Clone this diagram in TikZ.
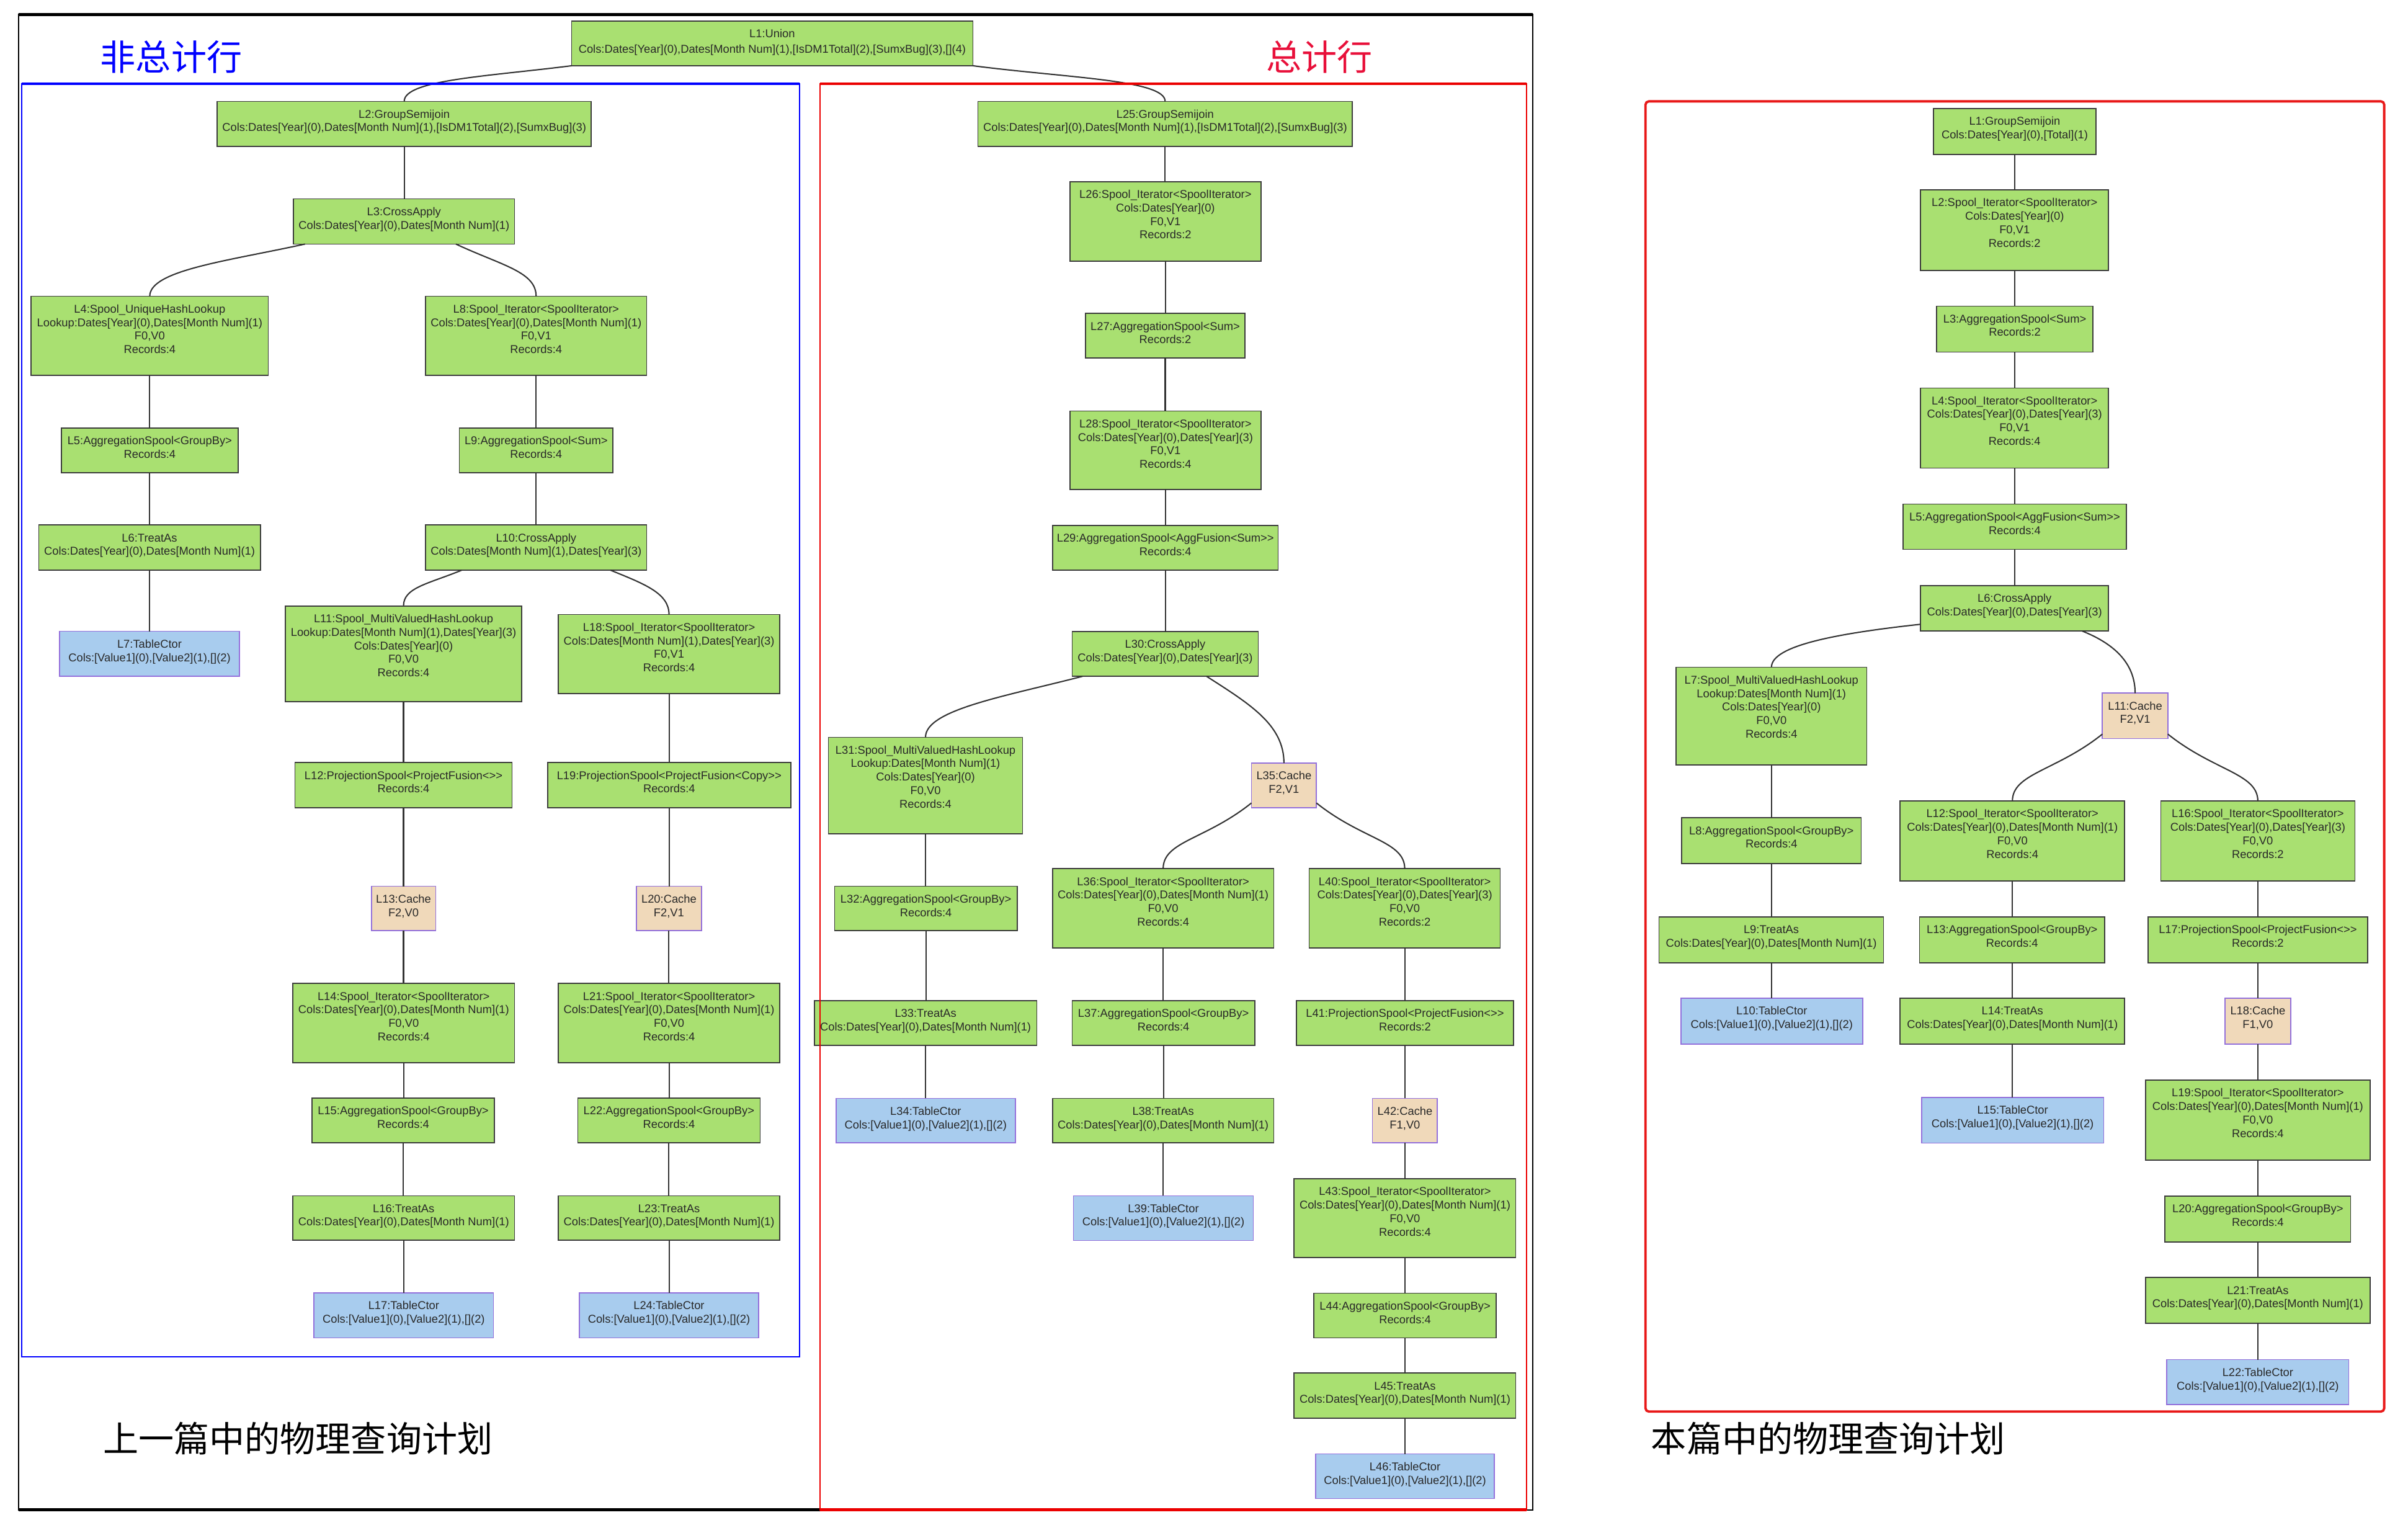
\documentclass[tikz,border=0pt]{standalone}
\usepackage{fontspec}
\setmainfont{Liberation Sans}[Ligatures=TeXOff]
\newfontfamily\cjk{Noto Sans CJK SC}
\usetikzlibrary{calc}
\definecolor{gfill}{RGB}{169,224,113}
\definecolor{gdraw}{RGB}{60,60,60}
\definecolor{bfill}{RGB}{168,204,238}
\definecolor{pdraw}{RGB}{147,112,219}
\definecolor{cfill}{RGB}{240,217,186}
\definecolor{txt}{RGB}{40,40,40}
\definecolor{edgec}{RGB}{51,51,51}
\definecolor{tred}{RGB}{232,16,58}
\definecolor{fred}{RGB}{232,24,24}
\definecolor{mred}{RGB}{235,0,0}
\tikzset{
 opbase/.style={inner sep=0pt, outer sep=0pt, line width=0.5pt, text=txt, font=\fontsize{5.27}{6.25}\selectfont},
 gbox/.style={opbase, draw=gdraw, fill=gfill},
 tbox/.style={opbase, draw=pdraw, fill=bfill},
 cbox/.style={opbase, draw=pdraw, fill=cfill},
 conn/.style={draw=edgec, line width=0.6pt},
 title/.style={font=\cjk\fontsize{16.4}{18}\selectfont, inner sep=0pt},
}
\newcommand\opn[7]{%
 \pgfmathsetlengthmacro\opw{(#5-#3)*0.025cm}%
 \pgfmathsetlengthmacro\oph{(#6-#4)*0.025cm}%
 \node[#2] (#1) at ({(#3+#5)/2},{(#4+#6)/2}) {\parbox[c][\oph][t]{\opw}{\centering\rule{0pt}{7.7pt}#7\par}};%
}
\begin{document}
\begin{tikzpicture}[x=0.025cm, y=-0.025cm]
\useasboundingbox (0,0) rectangle (1568,986);
% ---------- left (non-total) ----------
\opn{L1}{gbox}{372.2}{13.7}{633.5}{42.8}{L1:Union\\[1pt]Cols:Dates[Year](0),Dates[Month Num](1),[IsDM1Total](2),[SumxBug](3),[](4)}
\opn{L2}{gbox}{141.4}{66.0}{385.0}{95.3}{L2:GroupSemijoin\\Cols:Dates[Year](0),Dates[Month Num](1),[IsDM1Total](2),[SumxBug](3)}
\opn{L3}{gbox}{191.1}{129.5}{335.0}{158.9}{L3:CrossApply\\Cols:Dates[Year](0),Dates[Month Num](1)}
\opn{L4}{gbox}{20.3}{192.9}{174.7}{244.4}{L4:Spool\_UniqueHashLookup\\Lookup:Dates[Year](0),Dates[Month Num](1)\\F0,V0\\Records:4}
\opn{L8}{gbox}{277.1}{192.9}{421.1}{244.4}{L8:Spool\_Iterator<SpoolIterator>\\Cols:Dates[Year](0),Dates[Month Num](1)\\F0,V1\\Records:4}
\opn{L5}{gbox}{39.9}{278.6}{155.1}{307.8}{L5:AggregationSpool<GroupBy>\\Records:4}
\opn{L9}{gbox}{299.1}{278.6}{399.1}{307.8}{L9:AggregationSpool<Sum>\\Records:4}
\opn{L6}{gbox}{25.2}{341.8}{169.5}{371.2}{L6:TreatAs\\Cols:Dates[Year](0),Dates[Month Num](1)}
\opn{L10}{gbox}{277.1}{341.8}{421.1}{371.2}{L10:CrossApply\\Cols:Dates[Month Num](1),Dates[Year](3)}
\opn{L7}{tbox}{38.9}{411.0}{155.8}{440.4}{L7:TableCtor\\Cols:[Value1](0),[Value2](1),[](2)}
\opn{L11}{gbox}{185.9}{394.5}{339.6}{456.9}{L11:Spool\_MultiValuedHashLookup\\Lookup:Dates[Month Num](1),Dates[Year](3)\\Cols:Dates[Year](0)\\F0,V0\\Records:4}
\opn{L18}{gbox}{363.5}{400.1}{507.8}{451.5}{L18:Spool\_Iterator<SpoolIterator>\\Cols:Dates[Month Num](1),Dates[Year](3)\\F0,V1\\Records:4}
\opn{L12}{gbox}{192.1}{496.5}{333.4}{525.8}{L12:ProjectionSpool<ProjectFusion<>>\\Records:4}
\opn{L19}{gbox}{356.6}{496.5}{514.9}{525.8}{L19:ProjectionSpool<ProjectFusion<Copy>>\\Records:4}
\opn{L13}{cbox}{241.8}{577.0}{283.7}{606.0}{L13:Cache\\F2,V0}
\opn{L20}{cbox}{414.5}{577.0}{456.7}{606.0}{L20:Cache\\F2,V1}
\opn{L14}{gbox}{190.7}{640.3}{335.0}{691.8}{L14:Spool\_Iterator<SpoolIterator>\\Cols:Dates[Year](0),Dates[Month Num](1)\\F0,V0\\Records:4}
\opn{L21}{gbox}{363.5}{640.3}{507.8}{691.8}{L21:Spool\_Iterator<SpoolIterator>\\Cols:Dates[Year](0),Dates[Month Num](1)\\F0,V0\\Records:4}
\opn{L15}{gbox}{203.2}{715.0}{321.9}{744.0}{L15:AggregationSpool<GroupBy>\\Records:4}
\opn{L22}{gbox}{376.2}{715.0}{495.0}{744.0}{L22:AggregationSpool<GroupBy>\\Records:4}
\opn{L16}{gbox}{190.7}{778.5}{335.0}{807.5}{L16:TreatAs\\Cols:Dates[Year](0),Dates[Month Num](1)}
\opn{L23}{gbox}{363.5}{778.5}{507.8}{807.5}{L23:TreatAs\\Cols:Dates[Year](0),Dates[Month Num](1)}
\opn{L17}{tbox}{204.5}{841.8}{321.3}{871.0}{L17:TableCtor\\Cols:[Value1](0),[Value2](1),[](2)}
\opn{L24}{tbox}{377.2}{841.8}{494.0}{871.0}{L24:TableCtor\\Cols:[Value1](0),[Value2](1),[](2)}
% ---------- middle (total) ----------
\opn{L25}{gbox}{636.8}{66.0}{880.6}{95.3}{L25:GroupSemijoin\\Cols:Dates[Year](0),Dates[Month Num](1),[IsDM1Total](2),[SumxBug](3)}
\opn{L26}{gbox}{696.7}{118.3}{821.1}{169.9}{L26:Spool\_Iterator<SpoolIterator>\\Cols:Dates[Year](0)\\F0,V1\\Records:2}
\opn{L27}{gbox}{706.8}{204.1}{810.7}{233.2}{L27:AggregationSpool<Sum>\\Records:2}
\opn{L28}{gbox}{696.7}{267.6}{821.1}{318.8}{L28:Spool\_Iterator<SpoolIterator>\\Cols:Dates[Year](0),Dates[Year](3)\\F0,V1\\Records:4}
\opn{L29}{gbox}{685.4}{342.1}{832.3}{371.3}{L29:AggregationSpool<AggFusion<Sum>>\\Records:4}
\opn{L30}{gbox}{698.2}{411.1}{819.3}{440.3}{L30:CrossApply\\Cols:Dates[Year](0),Dates[Year](3)}
\opn{L31}{gbox}{539.4}{480.0}{665.9}{542.8}{L31:Spool\_MultiValuedHashLookup\\Lookup:Dates[Month Num](1)\\Cols:Dates[Year](0)\\F0,V0\\Records:4}
\opn{L35}{cbox}{814.9}{496.8}{857.2}{526.0}{L35:Cache\\F2,V1}
\opn{L32}{gbox}{543.5}{577.0}{662.3}{605.9}{L32:AggregationSpool<GroupBy>\\Records:4}
\opn{L36}{gbox}{685.4}{565.6}{829.4}{617.2}{L36:Spool\_Iterator<SpoolIterator>\\Cols:Dates[Year](0),Dates[Month Num](1)\\F0,V0\\Records:4}
\opn{L40}{gbox}{852.5}{565.6}{976.9}{617.2}{L40:Spool\_Iterator<SpoolIterator>\\Cols:Dates[Year](0),Dates[Year](3)\\F0,V0\\Records:2}
\opn{L33}{gbox}{530.3}{651.4}{675.1}{680.7}{L33:TreatAs\\Cols:Dates[Year](0),Dates[Month Num](1)}
\opn{L37}{gbox}{698.2}{651.4}{817.0}{680.7}{L37:AggregationSpool<GroupBy>\\Records:4}
\opn{L41}{gbox}{844.2}{651.4}{985.5}{680.7}{L41:ProjectionSpool<ProjectFusion<>>\\Records:2}
\opn{L34}{tbox}{544.4}{715.1}{661.1}{744.1}{L34:TableCtor\\Cols:[Value1](0),[Value2](1),[](2)}
\opn{L38}{gbox}{685.4}{715.1}{829.4}{744.1}{L38:TreatAs\\Cols:Dates[Year](0),Dates[Month Num](1)}
\opn{L42}{cbox}{893.7}{715.1}{936.0}{744.1}{L42:Cache\\F1,V0}
\opn{L39}{tbox}{699.0}{778.5}{816.1}{807.6}{L39:TableCtor\\Cols:[Value1](0),[Value2](1),[](2)}
\opn{L43}{gbox}{842.7}{767.4}{987.0}{818.7}{L43:Spool\_Iterator<SpoolIterator>\\Cols:Dates[Year](0),Dates[Month Num](1)\\F0,V0\\Records:4}
\opn{L44}{gbox}{855.5}{842.0}{974.3}{871.0}{L44:AggregationSpool<GroupBy>\\Records:4}
\opn{L45}{gbox}{842.7}{894.0}{987.0}{923.3}{L45:TreatAs\\Cols:Dates[Year](0),Dates[Month Num](1)}
\opn{L46}{tbox}{856.7}{946.6}{973.1}{975.7}{L46:TableCtor\\Cols:[Value1](0),[Value2](1),[](2)}
% ---------- right (this article) ----------
\opn{R1}{gbox}{1258.9}{70.6}{1364.9}{100.6}{L1:GroupSemijoin\\Cols:Dates[Year](0),[Total](1)}
\opn{R2}{gbox}{1250.6}{123.6}{1373.0}{176.1}{L2:Spool\_Iterator<SpoolIterator>\\Cols:Dates[Year](0)\\F0,V1\\Records:2}
\opn{R3}{gbox}{1261.1}{199.3}{1362.8}{229.2}{L3:AggregationSpool<Sum>\\Records:2}
\opn{R4}{gbox}{1250.6}{252.6}{1373.0}{304.8}{L4:Spool\_Iterator<SpoolIterator>\\Cols:Dates[Year](0),Dates[Year](3)\\F0,V1\\Records:4}
\opn{R5}{gbox}{1239.1}{328.2}{1384.7}{357.7}{L5:AggregationSpool<AggFusion<Sum>>\\Records:4}
\opn{R6}{gbox}{1250.6}{381.2}{1373.0}{410.9}{L6:CrossApply\\Cols:Dates[Year](0),Dates[Year](3)}
\opn{R7}{gbox}{1091.4}{434.4}{1215.6}{497.9}{L7:Spool\_MultiValuedHashLookup\\Lookup:Dates[Month Num](1)\\Cols:Dates[Year](0)\\F0,V0\\Records:4}
\opn{R11}{cbox}{1369.0}{451.3}{1411.6}{480.9}{L11:Cache\\F2,V1}
\opn{R8}{gbox}{1095.1}{532.5}{1211.9}{562.2}{L8:AggregationSpool<GroupBy>\\Records:4}
\opn{R12}{gbox}{1237.3}{521.5}{1383.5}{573.6}{L12:Spool\_Iterator<SpoolIterator>\\Cols:Dates[Year](0),Dates[Month Num](1)\\F0,V0\\Records:4}
\opn{R16}{gbox}{1407.0}{521.5}{1533.4}{573.6}{L16:Spool\_Iterator<SpoolIterator>\\Cols:Dates[Year](0),Dates[Year](3)\\F0,V0\\Records:2}
\opn{R9}{gbox}{1080.3}{596.9}{1226.5}{626.8}{L9:TreatAs\\Cols:Dates[Year](0),Dates[Month Num](1)}
\opn{R13}{gbox}{1249.9}{596.9}{1370.5}{626.8}{L13:AggregationSpool<GroupBy>\\Records:4}
\opn{R17}{gbox}{1398.6}{596.9}{1541.8}{626.8}{L17:ProjectionSpool<ProjectFusion<>>\\Records:2}
\opn{R10}{tbox}{1094.5}{649.9}{1212.9}{679.8}{L10:TableCtor\\Cols:[Value1](0),[Value2](1),[](2)}
\opn{R14}{gbox}{1237.3}{649.9}{1383.5}{679.8}{L14:TreatAs\\Cols:Dates[Year](0),Dates[Month Num](1)}
\opn{R18}{cbox}{1448.7}{649.9}{1491.7}{679.8}{L18:Cache\\F1,V0}
\opn{R15}{tbox}{1251.2}{714.4}{1369.9}{744.2}{L15:TableCtor\\Cols:[Value1](0),[Value2](1),[](2)}
\opn{R19}{gbox}{1397.1}{703.2}{1543.3}{755.4}{L19:Spool\_Iterator<SpoolIterator>\\Cols:Dates[Year](0),Dates[Month Num](1)\\F0,V0\\Records:4}
\opn{R20}{gbox}{1409.8}{778.8}{1530.6}{808.7}{L20:AggregationSpool<GroupBy>\\Records:4}
\opn{R21}{gbox}{1397.1}{831.8}{1543.3}{861.5}{L21:TreatAs\\Cols:Dates[Year](0),Dates[Month Num](1)}
\opn{R22}{tbox}{1411.0}{885.2}{1529.4}{914.6}{L22:TableCtor\\Cols:[Value1](0),[Value2](1),[](2)}
% ---------- connectors ----------
\draw[conn] (L1.south west) .. controls +(-55,7) and +(0,-14) .. (L2.north);
\draw[conn] (L1.south east) .. controls +(62,8) and +(0,-14) .. (L25.north);
\draw[conn] ($(L3.south west)!0.052!(L3.south east)$) .. controls +(-50,11) and +(0,-17) .. (L4.north);
\draw[conn] ($(L3.south west)!0.735!(L3.south east)$) .. controls +(30,14) and +(0,-16) .. (L8.north);
\draw[conn] ($(L10.south west)!0.164!(L10.south east)$) .. controls +(-22,9) and +(0,-12) .. (L11.north);
\draw[conn] ($(L10.south west)!0.836!(L10.south east)$) .. controls +(22,9) and +(0,-14) .. (L18.north);
\draw[conn] ($(L30.south west)!0.056!(L30.south east)$) .. controls +(-50,13) and +(0,-18) .. (L31.north);
\draw[conn] ($(L30.south west)!0.722!(L30.south east)$) .. controls +(28,18) and +(0,-25) .. (L35.north);
\draw[conn] ($(L35.north west)!0.89!(L35.south west)$) .. controls +(-30,24) and +(0,-18) .. (L36.north);
\draw[conn] ($(L35.north east)!0.89!(L35.south east)$) .. controls +(30,24) and +(0,-18) .. (L40.north);
\draw[conn] ($(R6.north west)!0.85!(R6.south west)$) .. controls +(-55,6) and +(0,-14) .. (R7.north);
\draw[conn] ($(R6.south west)!0.861!(R6.south east)$) .. controls +(20,8) and +(0,-20) .. (R11.north);
\draw[conn] ($(R11.north west)!0.9!(R11.south west)$) .. controls +(-30,24) and +(0,-18) .. (R12.north);
\draw[conn] ($(R11.north east)!0.9!(R11.south east)$) .. controls +(30,24) and +(0,-18) .. (R16.north);
\foreach \a/\b in {L2/L3,L4/L5,L5/L6,L6/L7,L8/L9,L9/L10,L11/L12,L12/L13,L13/L14,L14/L15,L15/L16,L16/L17,L18/L19,L19/L20,L20/L21,L21/L22,L22/L23,L23/L24,
 L25/L26,L26/L27,L27/L28,L28/L29,L29/L30,L31/L32,L32/L33,L33/L34,L36/L37,L37/L38,L38/L39,L40/L41,L41/L42,L42/L43,L43/L44,L44/L45,L45/L46,
 R1/R2,R2/R3,R3/R4,R4/R5,R5/R6,R7/R8,R8/R9,R9/R10,R12/R13,R13/R14,R14/R15,R16/R17,R17/R18,R18/R19,R19/R20,R20/R21,R21/R22}
 {\draw[conn] (\a.south) -- (\a.south |- \b.north);}
% ---------- frames ----------
\draw[black, line width=0.6pt] (12,9.5) rectangle (998,983);
\draw[black, line width=1.3pt] (12,9.5) -- (998,9.5);
\draw[black, line width=1.3pt] (12,983) -- (534,983);
\draw[blue, line width=0.6pt] (14.2,54.6) rectangle (520.5,883.3);
\draw[blue, line width=1.1pt] (14.2,54.6) -- (520.5,54.6);
\draw[mred, line width=0.6pt] (534,54.6) rectangle (994,983);
\draw[mred, line width=1.1pt] (534,54.6) -- (994,54.6);
\draw[mred, line width=1.3pt] (534,983) -- (994,983);
\draw[fred, line width=1.1pt, rounded corners=1.5pt] (1071.5,66) rectangle (1552.5,919);
% ---------- titles ----------
\node[title, text=blue] (t1) at (111.5,37) {非总计行};
\node[title, text=tred] (t2) at (859,37) {总计行};
\node[title, text=black] (t3) at (194,936.4) {上一篇中的物理查询计划};
\node[title, text=black] (t4) at (1190.5,936.4) {本篇中的物理查询计划};
\end{tikzpicture}
\end{document}
